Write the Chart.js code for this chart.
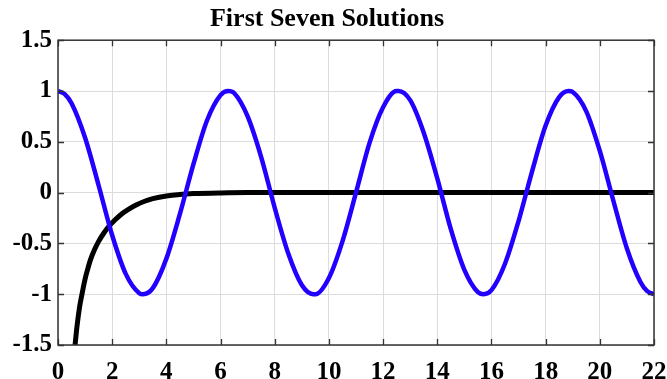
<!DOCTYPE html>
<html>
<head>
<meta charset="utf-8">
<script src="https://cdn.jsdelivr.net/npm/chart.js@4"></script>
<style>
  html, body { margin: 0; padding: 0; background: #fff; }
  #wrap { width: 667px; height: 379px; }
</style>
</head>
<body>
<div id="wrap"><canvas id="solChart" width="667" height="379"></canvas></div>
<script>
// ============ DATA ============
const titleText = 'First Seven Solutions';

const blueX = [0, 0.25, 0.5, 1, 1.5, 2, 2.5, 3, 3.14, 3.5, 4, 4.5, 5, 5.5, 6, 6.28, 6.5, 7, 7.5, 8, 8.5, 9, 9.42, 9.5,
  10, 10.5, 11, 11.5, 12, 12.5, 12.57, 13, 13.5, 14, 14.5, 15, 15.5, 15.71, 16, 16.5, 17, 17.5, 18, 18.5, 18.85,
  19, 19.5, 20, 20.5, 21, 21.5, 21.75, 22];
const blueY = [1, 0.97, 0.88, 0.54, 0.07, -0.42, -0.80, -0.99, -1, -0.94, -0.65, -0.21, 0.28, 0.71, 0.96, 1, 0.98, 0.75, 0.35, -0.15, -0.60, -0.91, -1, -1.00,
  -0.84, -0.48, 0.00, 0.49, 0.84, 1.00, 1, 0.91, 0.59, 0.14, -0.36, -0.76, -0.98, -1, -0.96, -0.70, -0.28, 0.21, 0.66, 0.94, 1,
  0.99, 0.80, 0.41, -0.08, -0.55, -0.88, -0.97, -1.00];

const blackX = [0.63, 0.7, 0.8, 0.9, 1.0, 1.1, 1.2, 1.35, 1.5, 1.7, 1.9, 2.1, 2.35, 2.6, 2.9, 3.2, 3.5, 4.0, 4.5, 5.0, 6.0, 7, 8, 10, 12, 14, 16, 18, 20, 22];
const blackY = [-1.5, -1.32, -1.12, -0.98, -0.85, -0.75, -0.66, -0.56, -0.48, -0.395, -0.325, -0.27, -0.21, -0.165, -0.12, -0.085, -0.06, -0.033, -0.018, -0.01, -0.003, 0, 0, 0, 0, 0, 0, 0, 0, 0];

const xTicks = [0, 2, 4, 6, 8, 10, 12, 14, 16, 18, 20, 22];
const yTicks = [-1.5, -1, -0.5, 0, 0.5, 1, 1.5];

// ============ HELPERS ============
const pts = (xs, ys) => xs.map((x, i) => ({ x, y: ys[i] }));
const FONT = '"Liberation Serif", "Times New Roman", serif';

// MATLAB-style box with inward ticks on every side
const boxTicks = {
  id: 'boxTicks',
  afterDatasetsDraw(chart) {
    const { ctx, chartArea: a, scales } = chart;
    const len = 6;
    ctx.save();
    ctx.strokeStyle = '#333';
    ctx.lineWidth = 1.3;
    ctx.beginPath();
    xTicks.forEach(v => {
      const px = Math.round(scales.x.getPixelForValue(v)) + 0.5;
      ctx.moveTo(px, a.bottom); ctx.lineTo(px, a.bottom - len);
      ctx.moveTo(px, a.top); ctx.lineTo(px, a.top + len);
    });
    yTicks.forEach(v => {
      const py = Math.round(scales.y.getPixelForValue(v)) + 0.5;
      ctx.moveTo(a.left, py); ctx.lineTo(a.left + len, py);
      ctx.moveTo(a.right, py); ctx.lineTo(a.right - len, py);
    });
    ctx.stroke();
    ctx.lineWidth = 1.5;
    ctx.strokeRect(a.left, a.top, a.right - a.left, a.bottom - a.top);
    ctx.restore();
  }
};

// ============ CHART ============
new Chart(document.getElementById('solChart'), {
  type: 'line',
  data: {
    datasets: [
      { data: pts(blueX, blueY), borderColor: '#2200ff', borderWidth: 4.5, pointRadius: 0, cubicInterpolationMode: 'monotone', fill: false },
      { data: pts(blackX, blackY), borderColor: '#000', borderWidth: 5, pointRadius: 0, cubicInterpolationMode: 'monotone', fill: false }
    ]
  },
  options: {
    responsive: false,
    animation: false,
    layout: { padding: { left: 0, right: 13, top: 0, bottom: 0 } },
    plugins: {
      legend: { display: false },
      tooltip: { enabled: false },
      title: {
        display: true, text: titleText, color: '#000',
        font: { family: FONT, size: 26, weight: 'bold' },
        padding: { top: 4, bottom: 5 }
      }
    },
    scales: {
      x: {
        type: 'linear', min: 0, max: 22,
        afterBuildTicks: s => { s.ticks = xTicks.map(v => ({ value: v })); },
        afterFit: s => { s.height = 34; s.paddingLeft = 0; s.paddingRight = 0; },
        grid: { color: '#dcdcdc', lineWidth: 1, drawTicks: false },
        border: { display: false },
        ticks: { color: '#000', padding: 13, maxRotation: 0, callback: v => String(v), font: { family: FONT, size: 25, weight: 'bold' } }
      },
      y: {
        type: 'linear', min: -1.5, max: 1.5,
        afterBuildTicks: s => { s.ticks = yTicks.map(v => ({ value: v })); },
        afterFit: s => { s.width = 58; s.paddingTop = 0; s.paddingBottom = 0; },
        grid: { color: '#dcdcdc', lineWidth: 1, drawTicks: false },
        border: { display: false },
        ticks: { color: '#000', padding: 6, callback: v => String(v), font: { family: FONT, size: 25, weight: 'bold' } }
      }
    }
  },
  plugins: [boxTicks]
});
</script>
</body>
</html>
